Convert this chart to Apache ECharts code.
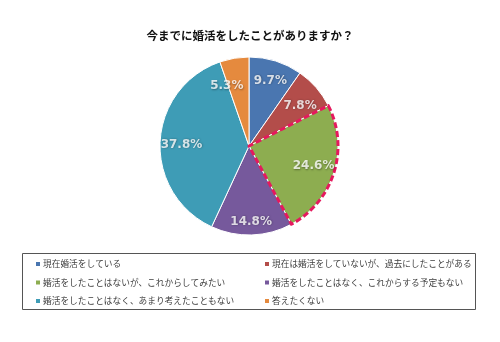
<!DOCTYPE html>
<html><head><meta charset="utf-8">
<script src="https://cdn.jsdelivr.net/npm/echarts@6/dist/echarts.min.js"></script>
<style>html,body{margin:0;padding:0;background:#fff}#c{width:500px;height:342px}</style>
</head><body><div id="c"></div>
<script>
const titleText = '今までに婚活をしたことがありますか？';
const categories = [
  '現在婚活をしている',
  '現在は婚活をしていないが、過去にしたことがある',
  '婚活をしたことはないが、これからしてみたい',
  '婚活をしたことはなく、これからする予定もない',
  '婚活をしたことはなく、あまり考えたこともない',
  '答えたくない'
];
const values = [9.7, 7.8, 24.6, 14.8, 37.8, 5.3];
const colors = ['#4A76B0', '#B34D4A', '#8DAD50', '#76599C', '#3E9CB6', '#E58A3E'];
const highlightIndex = 2;

const FONT = '"Noto Sans CJK JP", sans-serif';
const chart = echarts.init(document.getElementById('c'), null, {renderer: 'canvas'});
const R = 89;
const center = [249, 146];
const LABEL_R = 0.76;
// small pixel nudges of the data labels (layout only)
const labelNudge = [[1, -1], [0, 4], [0, 0], [0, 8], [0, 2], [-11, 7]];

const total = values.reduce((a, b) => a + b, 0);
let acc = 0;
const labelPoints = values.map(v => { const mid = acc + v / 2; acc += v; return [LABEL_R, mid / total * 100]; });

const mainData = categories.map((n, i) => ({name: n, value: values[i], itemStyle: {color: colors[i]}}));
const borderData = categories.map((n, i) => ({
  name: n, value: values[i],
  itemStyle: i === highlightIndex
    ? {color: 'rgba(0,0,0,0)', borderColor: '#E5195E', borderWidth: 3, borderType: [6, 3]}
    : {color: 'rgba(0,0,0,0)', borderWidth: 0}
}));

const legendText = {fontFamily: FONT, fontSize: 8.7, color: '#404040', lineHeight: 12, padding: [0, 0, 0, -3]};

chart.setOption({
  backgroundColor: '#fff',
  animation: false,
  color: colors,
  title: {
    text: titleText, left: 'center', top: 25,
    textStyle: {fontFamily: FONT, fontSize: 11.5, fontWeight: 'bold', color: '#111'}
  },
  legend: [
    {
      orient: 'vertical', left: 29, top: 253, itemWidth: 6, itemHeight: 6, itemGap: 6.5,
      icon: 'rect', selectedMode: false,
      data: [categories[0], categories[2], categories[4]], textStyle: legendText
    },
    {
      orient: 'vertical', left: 258, top: 253, itemWidth: 6, itemHeight: 6, itemGap: 6.5,
      icon: 'rect', selectedMode: false,
      data: [categories[1], categories[3], categories[5]], textStyle: legendText
    }
  ],
  graphic: [{
    type: 'rect', shape: {x: 22.5, y: 253.5, width: 453, height: 56},
    style: {fill: 'none', stroke: '#555', lineWidth: 1}, z: -1
  }],
  polar: {center: center, radius: R},
  angleAxis: {type: 'value', min: 0, max: 100, startAngle: 90, clockwise: true, show: false},
  radiusAxis: {type: 'value', min: 0, max: 1, show: false},
  series: [
    {
      type: 'pie', center: center, radius: [0, R], startAngle: 90, clockwise: true,
      data: mainData, label: {show: false}, labelLine: {show: false},
      itemStyle: {borderColor: '#fff', borderWidth: 1}, emphasis: {disabled: true}
    },
    {
      type: 'pie', center: center, radius: [0, R], startAngle: 90, clockwise: true, silent: true,
      data: borderData, label: {show: false}, labelLine: {show: false}, z: 3
    },
    {
      type: 'scatter', coordinateSystem: 'polar', symbolSize: 0, silent: true, z: 4,
      data: labelPoints.map((p, i) => ({value: p, label: {offset: labelNudge[i]}})),
      label: {
        show: true, position: 'inside',
        formatter: p => values[p.dataIndex].toFixed(1) + '%',
        fontFamily: '"Verdana", "DejaVu Sans", sans-serif', fontSize: 12, fontWeight: 'bold', color: '#fff',
        textShadowColor: 'rgba(0,0,0,0.45)', textShadowBlur: 2, textShadowOffsetX: 0.5, textShadowOffsetY: 0.5
      }
    }
  ]
});
</script></body></html>
